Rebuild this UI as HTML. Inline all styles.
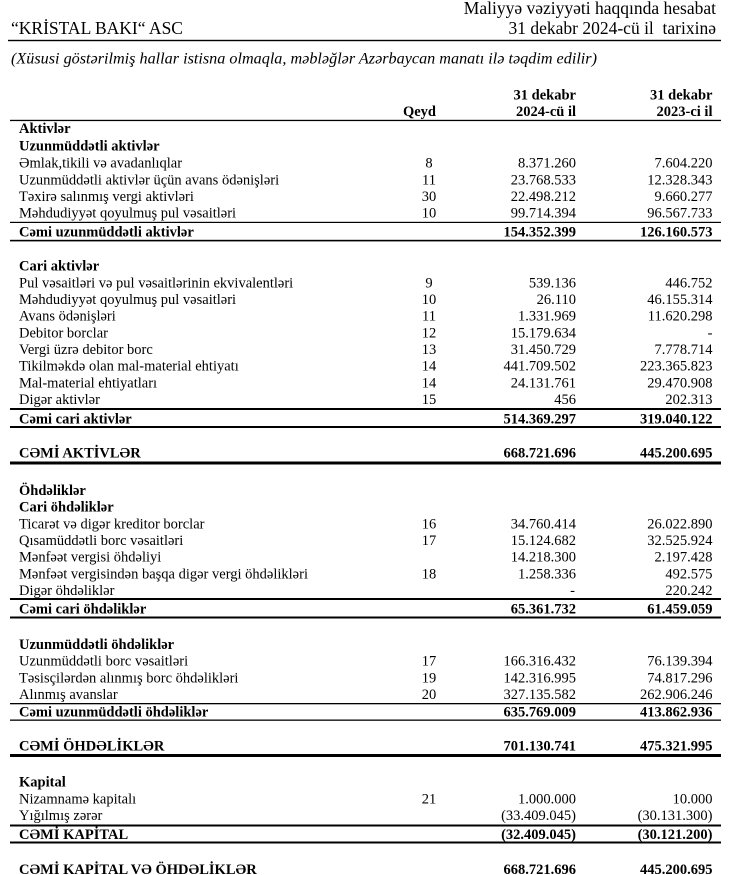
<!DOCTYPE html>
<html>
<head>
<meta charset="utf-8">
<style>
html,body{margin:0;padding:0;background:#fff;}
svg{display:block;}
text{font-family:"Liberation Serif","Times New Roman",serif;fill:#000;}
.b{font-weight:bold;}
.t{font-size:14.5px;}
.h{font-size:17.5px;}
.n{text-anchor:middle;}
.r{text-anchor:end;}
</style>
</head>
<body>
<svg width="737" height="875" viewBox="0 0 737 875" xmlns="http://www.w3.org/2000/svg">
<rect width="737" height="875" fill="#fff"/>

<!-- Header -->
<text class="h" x="11" y="34">“KRİSTAL BAKI“ ASC</text>
<text class="h r" x="716" y="14">Maliyyə vəziyyəti haqqında hesabat</text>
<text class="h r" x="716" y="34">31 dekabr 2024-cü il&#160; tarixinə</text>
<rect x="8" y="39.8" width="713" height="1.4" fill="#000"/>
<text x="11" y="63.3" font-size="15.5" font-style="italic" textLength="586" lengthAdjust="spacingAndGlyphs">(Xüsusi göstərilmiş hallar istisna olmaqla, məbləğlər Azərbaycan manatı ilə təqdim edilir)</text>

<!-- Lines -->
<rect x="10" y="119.8" width="711" height="1.3" fill="#000"/>
<rect x="10" y="221.8" width="711" height="1.2" fill="#000"/>
<rect x="10" y="239.8" width="711" height="1.6" fill="#000"/>
<rect x="10" y="408" width="711" height="2" fill="#000"/>
<rect x="10" y="426" width="711" height="2" fill="#000"/>
<rect x="10" y="461.5" width="711" height="3" fill="#000"/>
<rect x="10" y="598" width="711" height="2" fill="#000"/>
<rect x="10" y="616.5" width="711" height="2" fill="#000"/>
<rect x="10" y="703" width="711" height="1.3" fill="#000"/>
<rect x="10" y="719.5" width="711" height="1.3" fill="#000"/>
<rect x="10" y="754" width="711" height="3" fill="#000"/>
<rect x="10" y="824.5" width="711" height="2" fill="#000"/>
<rect x="10" y="841.5" width="711" height="2" fill="#000"/>

<g class="t">
<!-- Column headers -->
<text class="b r" x="576" y="99.3">31 dekabr</text>
<text class="b r" x="712.5" y="99.3">31 dekabr</text>
<text class="b r" x="436" y="116">Qeyd</text>
<text class="b r" x="576" y="116">2024-cü il</text>
<text class="b r" x="712.5" y="116">2023-ci il</text>

<!-- Aktivlər -->
<text class="b" x="19" y="133">Aktivlər</text>
<text class="b" x="19" y="150.5">Uzunmüddətli aktivlər</text>

<text x="19" y="167.7">Əmlak,tikili və avadanlıqlar</text>
<text class="n" x="429" y="167.7">8</text>
<text class="r" x="576" y="167.7">8.371.260</text>
<text class="r" x="712.5" y="167.7">7.604.220</text>

<text x="19" y="184.3">Uzunmüddətli aktivlər üçün avans ödənişləri</text>
<text class="n" x="429" y="184.3">11</text>
<text class="r" x="576" y="184.3">23.768.533</text>
<text class="r" x="712.5" y="184.3">12.328.343</text>

<text x="19" y="201">Təxirə salınmış vergi aktivləri</text>
<text class="n" x="429" y="201">30</text>
<text class="r" x="576" y="201">22.498.212</text>
<text class="r" x="712.5" y="201">9.660.277</text>

<text x="19" y="217.7">Məhdudiyyət qoyulmuş pul vəsaitləri</text>
<text class="n" x="429" y="217.7">10</text>
<text class="r" x="576" y="217.7">99.714.394</text>
<text class="r" x="712.5" y="217.7">96.567.733</text>

<text class="b" x="19" y="236.5">Cəmi uzunmüddətli aktivlər</text>
<text class="b r" x="576" y="236.5">154.352.399</text>
<text class="b r" x="712.5" y="236.5">126.160.573</text>

<text class="b" x="19" y="270.6">Cari aktivlər</text>

<text x="19" y="287.3">Pul vəsaitləri və pul vəsaitlərinin ekvivalentləri</text>
<text class="n" x="429" y="287.3">9</text>
<text class="r" x="576" y="287.3">539.136</text>
<text class="r" x="712.5" y="287.3">446.752</text>

<text x="19" y="304">Məhdudiyyət qoyulmuş pul vəsaitləri</text>
<text class="n" x="429" y="304">10</text>
<text class="r" x="576" y="304">26.110</text>
<text class="r" x="712.5" y="304">46.155.314</text>

<text x="19" y="320.7">Avans ödənişləri</text>
<text class="n" x="429" y="320.7">11</text>
<text class="r" x="576" y="320.7">1.331.969</text>
<text class="r" x="712.5" y="320.7">11.620.298</text>

<text x="19" y="337.3">Debitor borclar</text>
<text class="n" x="429" y="337.3">12</text>
<text class="r" x="576" y="337.3">15.179.634</text>
<text class="r" x="712.5" y="337.3">-</text>

<text x="19" y="354">Vergi üzrə debitor borc</text>
<text class="n" x="429" y="354">13</text>
<text class="r" x="576" y="354">31.450.729</text>
<text class="r" x="712.5" y="354">7.778.714</text>

<text x="19" y="370.7">Tikilməkdə olan mal-material ehtiyatı</text>
<text class="n" x="429" y="370.7">14</text>
<text class="r" x="576" y="370.7">441.709.502</text>
<text class="r" x="712.5" y="370.7">223.365.823</text>

<text x="19" y="387.3">Mal-material ehtiyatları</text>
<text class="n" x="429" y="387.3">14</text>
<text class="r" x="576" y="387.3">24.131.761</text>
<text class="r" x="712.5" y="387.3">29.470.908</text>

<text x="19" y="404">Digər aktivlər</text>
<text class="n" x="429" y="404">15</text>
<text class="r" x="576" y="404">456</text>
<text class="r" x="712.5" y="404">202.313</text>

<text class="b" x="19" y="423.3">Cəmi cari aktivlər</text>
<text class="b r" x="576" y="423.3">514.369.297</text>
<text class="b r" x="712.5" y="423.3">319.040.122</text>

<text class="b" x="19" y="457.7">CƏMİ AKTİVLƏR</text>
<text class="b r" x="576" y="457.7">668.721.696</text>
<text class="b r" x="712.5" y="457.7">445.200.695</text>

<!-- Öhdəliklər -->
<text class="b" x="19" y="495">Öhdəliklər</text>
<text class="b" x="19" y="511.6">Cari öhdəliklər</text>

<text x="19" y="528.3">Ticarət və digər kreditor borclar</text>
<text class="n" x="429" y="528.3">16</text>
<text class="r" x="576" y="528.3">34.760.414</text>
<text class="r" x="712.5" y="528.3">26.022.890</text>

<text x="19" y="545">Qısamüddətli borc vəsaitləri</text>
<text class="n" x="429" y="545">17</text>
<text class="r" x="576" y="545">15.124.682</text>
<text class="r" x="712.5" y="545">32.525.924</text>

<text x="19" y="561.7">Mənfəət vergisi öhdəliyi</text>
<text class="r" x="576" y="561.7">14.218.300</text>
<text class="r" x="712.5" y="561.7">2.197.428</text>

<text x="19" y="578.3">Mənfəət vergisindən başqa digər vergi öhdəlikləri</text>
<text class="n" x="429" y="578.3">18</text>
<text class="r" x="576" y="578.3">1.258.336</text>
<text class="r" x="712.5" y="578.3">492.575</text>

<text x="19" y="595">Digər öhdəliklər</text>
<text class="r" x="575" y="595">-</text>
<text class="r" x="712.5" y="595">220.242</text>

<text class="b" x="19" y="613.3">Cəmi cari öhdəliklər</text>
<text class="b r" x="576" y="613.3">65.361.732</text>
<text class="b r" x="712.5" y="613.3">61.459.059</text>

<text class="b" x="19" y="649">Uzunmüddətli öhdəliklər</text>

<text x="19" y="665.7">Uzunmüddətli borc vəsaitləri</text>
<text class="n" x="429" y="665.7">17</text>
<text class="r" x="576" y="665.7">166.316.432</text>
<text class="r" x="712.5" y="665.7">76.139.394</text>

<text x="19" y="682.3">Təsisçilərdən alınmış borc öhdəlikləri</text>
<text class="n" x="429" y="682.3">19</text>
<text class="r" x="576" y="682.3">142.316.995</text>
<text class="r" x="712.5" y="682.3">74.817.296</text>

<text x="19" y="699">Alınmış avanslar</text>
<text class="n" x="429" y="699">20</text>
<text class="r" x="576" y="699">327.135.582</text>
<text class="r" x="712.5" y="699">262.906.246</text>

<text class="b" x="19" y="716.7">Cəmi uzunmüddətli öhdəliklər</text>
<text class="b r" x="576" y="716.7">635.769.009</text>
<text class="b r" x="712.5" y="716.7">413.862.936</text>

<text class="b" x="19" y="750.7">CƏMİ ÖHDƏLİKLƏR</text>
<text class="b r" x="576" y="750.7">701.130.741</text>
<text class="b r" x="712.5" y="750.7">475.321.995</text>

<!-- Kapital -->
<text class="b" x="19" y="786.6">Kapital</text>

<text x="19" y="803.3">Nizamnamə kapitalı</text>
<text class="n" x="429" y="803.3">21</text>
<text class="r" x="576" y="803.3">1.000.000</text>
<text class="r" x="712.5" y="803.3">10.000</text>

<text x="19" y="820">Yığılmış zərər</text>
<text class="r" x="576" y="820">(33.409.045)</text>
<text class="r" x="712.5" y="820">(30.131.300)</text>

<text class="b" x="19" y="839">CƏMİ KAPİTAL</text>
<text class="b r" x="576" y="839">(32.409.045)</text>
<text class="b r" x="712.5" y="839">(30.121.200)</text>

<text class="b" x="19" y="874">CƏMİ KAPİTAL VƏ ÖHDƏLİKLƏR</text>
<text class="b r" x="576" y="874">668.721.696</text>
<text class="b r" x="712.5" y="874">445.200.695</text>
</g>
</svg>
</body>
</html>
